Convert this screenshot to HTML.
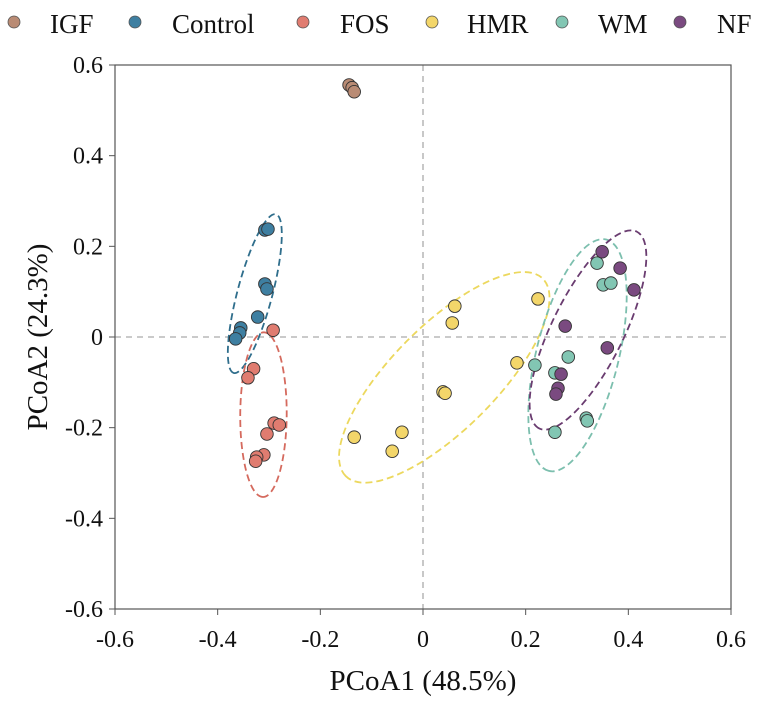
<!DOCTYPE html>
<html><head><meta charset="utf-8"><style>
body{margin:0;background:#fff;}
svg text{font-family:"Liberation Serif",serif;fill:#111;}
</style></head><body>
<svg id="c" width="760" height="702"></svg>
<script>
const groups=["IGF","Control","FOS","HMR","WM","NF"];
const colors=["#b98b74","#3e7fa1","#e07c70","#f3d66a","#82c6b3","#7a4a80"];
const ringColors=["#8a6a5a","#2f6e8c","#d56a5e","#ecd85e","#7cbfae","#6a3c70"];
const xTicks=[-0.6,-0.4,-0.2,0,0.2,0.4,0.6];
const yTicks=[-0.6,-0.4,-0.2,0,0.2,0.4,0.6];
const tickLabels=["-0.6","-0.4","-0.2","0","0.2","0.4","0.6"];
const IGF=[[-0.144,0.556],[-0.138,0.55],[-0.134,0.541]];
const Control=[[-0.308,0.236],[-0.302,0.238],[-0.308,0.117],[-0.304,0.106],[-0.322,0.044],[-0.355,0.02],[-0.357,0.009],[-0.365,-0.004]];
const FOS=[[-0.292,0.015],[-0.33,-0.07],[-0.341,-0.09],[-0.29,-0.19],[-0.28,-0.194],[-0.304,-0.214],[-0.31,-0.26],[-0.324,-0.265],[-0.326,-0.274]];
const HMR=[[-0.134,-0.221],[-0.06,-0.252],[-0.041,-0.21],[0.039,-0.121],[0.043,-0.124],[0.062,0.068],[0.057,0.031],[0.224,0.084],[0.183,-0.057]];
const WM=[[0.339,0.163],[0.351,0.115],[0.366,0.119],[0.218,-0.062],[0.283,-0.044],[0.257,-0.079],[0.257,-0.21],[0.318,-0.179],[0.32,-0.185]];
const NF=[[0.349,0.188],[0.384,0.152],[0.411,0.104],[0.277,0.024],[0.359,-0.024],[0.269,-0.082],[0.263,-0.113],[0.259,-0.126]];
const data=[IGF,Control,FOS,HMR,WM,NF];
const L=115,R=731,T=65,B=609;
const sx=v=>L+(v+0.6)/1.2*(R-L);
const sy=v=>B-(v+0.6)/1.2*(B-T);
const NS="http://www.w3.org/2000/svg";
const svg=document.getElementById("c");
function mk(tag,attrs,parent){const e=document.createElementNS(NS,tag);for(const k in attrs)e.setAttribute(k,attrs[k]);(parent||svg).appendChild(e);return e;}
let z1=mk("line",{x1:sx(0),x2:sx(0),y1:T,y2:B,stroke:"#aaa","stroke-width":1.3,"stroke-dasharray":"6,5"});


let z2=mk("line",{x1:L,x2:R,y1:sy(0),y2:sy(0),stroke:"#aaa","stroke-width":1.3,"stroke-dasharray":"6,5"});


let fr=mk("rect",{x:L,y:T,width:R-L,height:B-T,fill:"none",stroke:"#555","stroke-width":1.2});


xTicks.forEach((v,i)=>{
  mk("line",{x1:sx(v),x2:sx(v),y1:B,y2:B+6,stroke:"#555"});
  let t=mk("text",{x:sx(v),y:B+38,"text-anchor":"middle","font-size":24});t.textContent=tickLabels[i];
  
  
});
yTicks.forEach((v,i)=>{
  mk("line",{x1:L-6,x2:L,y1:sy(v),y2:sy(v),stroke:"#555"});
  let t=mk("text",{x:L-12,y:sy(v)+8,"text-anchor":"end","font-size":24});t.textContent=tickLabels[i];
  
  
});
let xt=mk("text",{x:sx(0),y:690,"text-anchor":"middle","font-size":29});xt.textContent="PCoA1 (48.5%)";


let yt=mk("text",{x:0,y:0,"text-anchor":"middle","font-size":29,transform:"translate(47,"+sy(0)+") rotate(-90)"});yt.textContent="PCoA2 (24.3%)";


data.forEach((pts,g)=>{
  if(g===0)return;
  const n=pts.length;
  const px=pts.map(p=>sx(p[0])),py=pts.map(p=>sy(p[1]));
  const mx=px.reduce((a,b)=>a+b)/n,my=py.reduce((a,b)=>a+b)/n;
  let a=0,b=0,c=0;
  for(let i=0;i<n;i++){const dx=px[i]-mx,dy=py[i]-my;a+=dx*dx;b+=dx*dy;c+=dy*dy;}
  a/=(n-1);b/=(n-1);c/=(n-1);
  const tr=(a+c)/2,det=Math.sqrt(((a-c)/2)**2+b*b);
  const l1=tr+det,l2=Math.max(tr-det,1e-3);
  const ang=Math.atan2(l1-a,b)*180/Math.PI;
  const k=1.8;
  let e=mk("ellipse",{cx:mx,cy:my,rx:k*Math.sqrt(l1),ry:k*Math.sqrt(l2)+4,transform:`rotate(${isNaN(ang)?0:ang} ${mx} ${my})`,fill:"none",stroke:ringColors[g],"stroke-width":1.8,"stroke-dasharray":"7,4"});
  
  
});
data.forEach((pts,g)=>{
  pts.forEach(p=>{
    let c=mk("circle",{cx:sx(p[0]),cy:sy(p[1]),r:6.3,fill:colors[g],stroke:"#333","stroke-width":0.9});
    
    
  });
});
const legX=[14,135,303,432,562,680];
const legTextX=[50,172,340,467,598,717];
groups.forEach((name,g)=>{
  let m=mk("circle",{cx:legX[g],cy:22,r:6,fill:colors[g],stroke:"#555","stroke-width":0.8});
  
  
  let t=mk("text",{x:legTextX[g],y:33,"font-size":27});t.textContent=name;
  
  
});
</script>
</body></html>
